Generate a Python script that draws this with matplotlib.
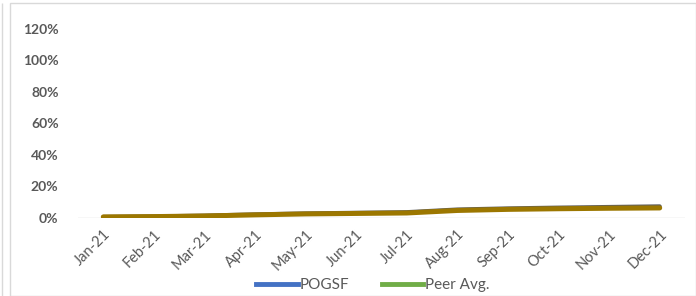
import matplotlib
matplotlib.use("Agg")
import matplotlib.pyplot as plt
from matplotlib.lines import Line2D
from matplotlib.patches import Rectangle
from matplotlib.ticker import PercentFormatter

months = ["Jan-21", "Feb-21", "Mar-21", "Apr-21", "May-21", "Jun-21",
          "Jul-21", "Aug-21", "Sep-21", "Oct-21", "Nov-21", "Dec-21"]
pogsf = [0.5, 0.8, 1.3, 2.1, 2.7, 3.1, 3.5, 5.2, 5.9, 6.4, 6.8, 7.2]
peer_avg = [0.5, 0.7, 1.1, 1.8, 2.4, 2.7, 3.0, 4.6, 5.3, 5.7, 6.0, 6.2]
yticks = [0, 20, 40, 60, 80, 100, 120]

plt.rcParams["font.family"] = ["Lato", "DejaVu Sans"]

fig = plt.figure(figsize=(6.96, 2.96), dpi=100)
W, H = 696, 296
ax = fig.add_axes([78 / W, 1 - 217.7 / H, (685 - 78) / W, (217.7 - 29) / H])

x = list(range(len(months)))
ax.plot(x, pogsf, color="#5f5f5f", lw=3.0, solid_capstyle="round", zorder=3)
ax.plot(x, peer_avg, color="#9c7700", lw=3.6, solid_capstyle="round", zorder=4)

ax.set_xlim(-0.5, len(months) - 0.5)
ax.set_ylim(0, 120)
ax.set_yticks(yticks)
ax.yaxis.set_major_formatter(PercentFormatter(decimals=0))
ax.axhline(0, color="#d9d9d9", lw=1.0, zorder=1)
for s in ax.spines.values():
    s.set_visible(False)
ax.tick_params(axis="both", length=0)
ax.tick_params(axis="y", pad=14, labelsize=10, labelcolor="#595959")
for lab in ax.get_yticklabels():
    lab.set_fontweight("bold")
ax.set_xticks(x)
ax.set_xticklabels(months, rotation=45, ha="right", rotation_mode="anchor",
                   fontsize=10.5, color="#595959")
ax.tick_params(axis="x", pad=7)

handles = [Line2D([], [], color="#4472c4", lw=3.5),
           Line2D([], [], color="#70ad47", lw=3.5)]
fig.legend(handles, ["POGSF", "Peer Avg."], loc="center",
           bbox_to_anchor=(373 / W, 1 - 285 / H), ncol=2, frameon=False,
           fontsize=11, labelcolor="#595959", handlelength=2.7,
           handletextpad=0.15, columnspacing=2.1)

fig.patches.append(Rectangle((10 / W, 0), 1 - 10 / W, 1 - 3 / H,
                             transform=fig.transFigure, fill=False,
                             edgecolor="#d9d9d9", lw=1.0))
fig.patches.append(Rectangle((2 / W, 0), 0, 1 - 3 / H,
                             transform=fig.transFigure, fill=False,
                             edgecolor="#d9d9d9", lw=1.0))

fig.savefig("out.png", dpi=100)
